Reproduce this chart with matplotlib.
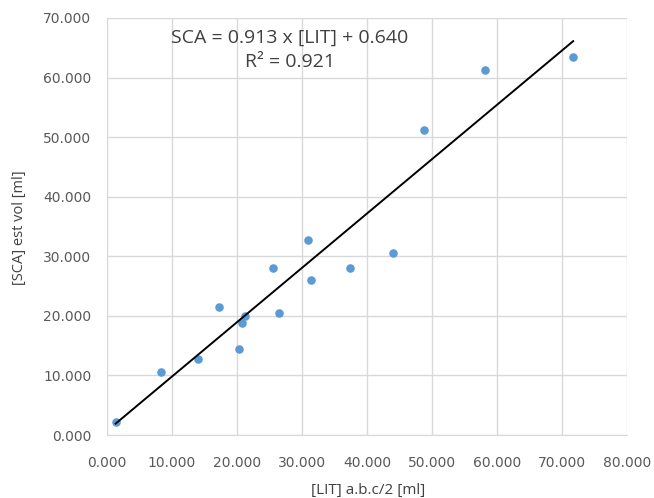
import matplotlib
matplotlib.use("Agg")
import matplotlib.pyplot as plt
import numpy as np

lit = [1.4, 8.4, 14.1, 17.3, 20.3, 20.8, 21.2, 25.5, 26.5, 31.0, 31.4, 37.4, 44.0, 48.7, 58.2, 71.7]
sca = [2.1, 10.6, 12.8, 21.4, 14.5, 18.8, 20.0, 28.1, 20.5, 32.7, 26.0, 28.1, 30.6, 51.2, 61.2, 63.5]
slope = 0.913
intercept = 0.640
r2 = 0.921
xticks = [0, 10, 20, 30, 40, 50, 60, 70, 80]
yticks = [0, 10, 20, 30, 40, 50, 60, 70]

fig = plt.figure(figsize=(6.54, 4.98), dpi=100)
ax = fig.add_axes([0.163, 0.1265, 0.796, 0.8375])

ax.scatter(lit, sca, s=38, color="#5B9BD5", zorder=3, linewidths=0)
xl = np.array([min(lit), max(lit)])
ax.plot(xl, slope * xl + intercept, color="black", lw=1.4, zorder=4)

ax.set_xlim(0, 80)
ax.set_ylim(0, 70)
ax.set_xticks(xticks)
ax.set_yticks(yticks)
ax.set_xticklabels([f"{v}.000" for v in xticks])
ax.set_yticklabels([f"{v}.000" for v in yticks])
ax.grid(True, color="#D9D9D9", lw=1)
ax.set_axisbelow(True)
for s in ["top", "right"]:
    ax.spines[s].set_visible(False)
for s in ["left", "bottom"]:
    ax.spines[s].set_color("#D9D9D9")
ax.tick_params(length=0, colors="#595959", labelsize=10)
ax.tick_params(axis="x", pad=15)
ax.tick_params(axis="y", pad=11)

fig.text(368 / 654, 1 - 490 / 498, "[LIT] a.b.c/2 [ml]", fontsize=11, color="#404040",
         family="Open Sans", ha="center", va="center")
fig.text(20 / 654, 1 - 228 / 498, "[SCA] est vol [ml]", fontsize=10.5, color="#404040",
         family="Open Sans", ha="center", va="center", rotation=90)

ax.text(0.352, 0.952, f"SCA = {slope:.3f} x [LIT] + {intercept:.3f}",
        transform=ax.transAxes, ha="center", va="center", fontsize=14,
        color="#404040", family="Open Sans")
ax.text(0.352, 0.894, f"R² = {r2:.3f}",
        transform=ax.transAxes, ha="center", va="center", fontsize=14,
        color="#404040", family="Open Sans")

fig.savefig("out.png", dpi=100)
